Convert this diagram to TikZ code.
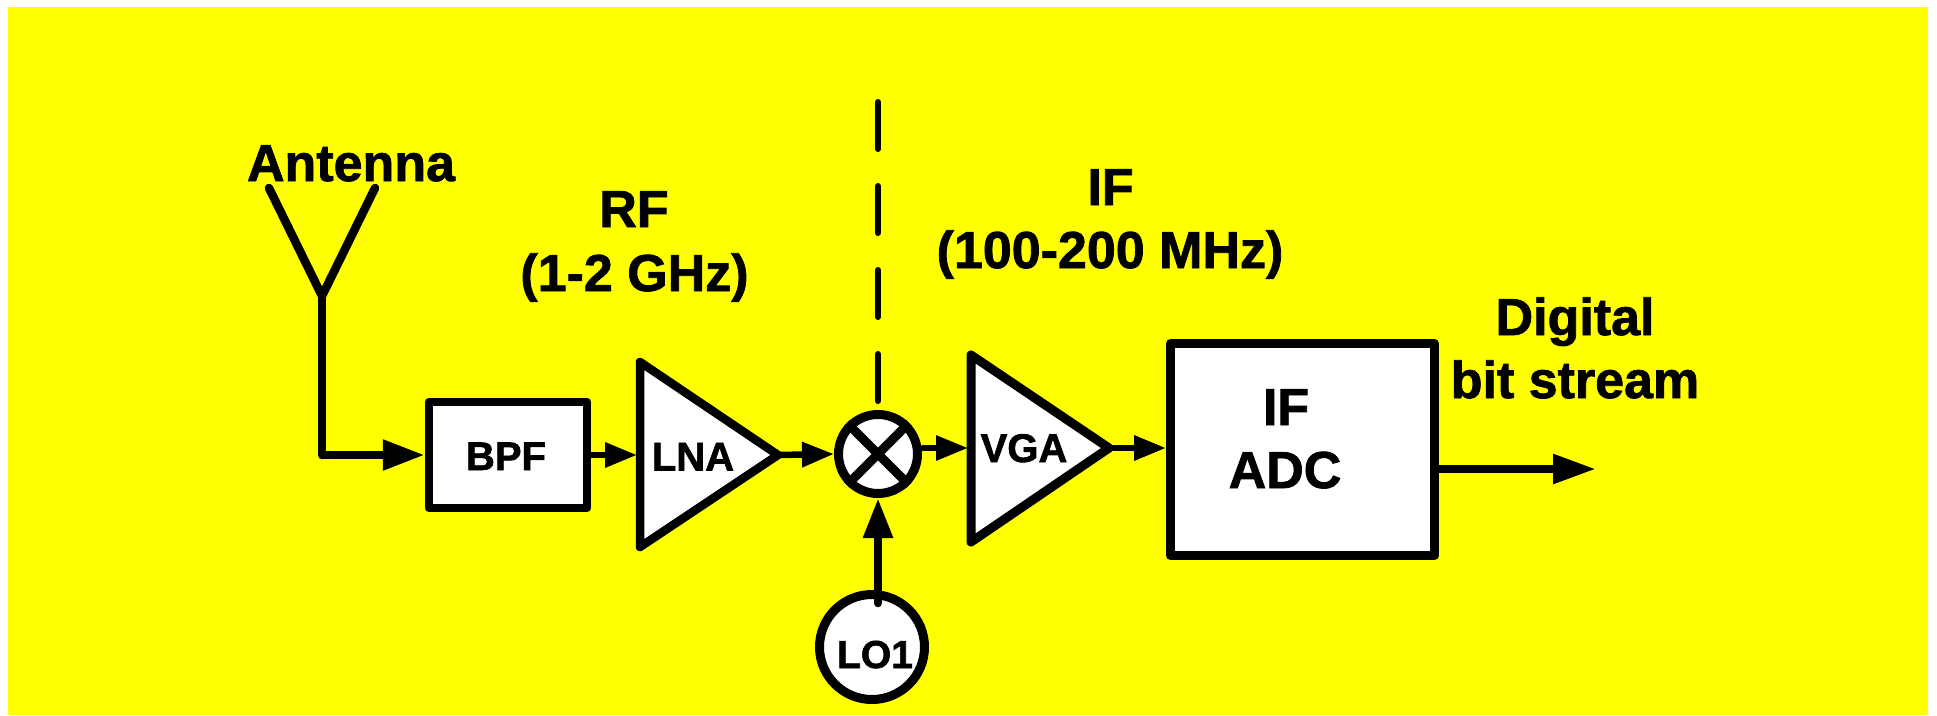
\documentclass[tikz,border=0pt]{standalone}
\usepackage{fontspec}
\setmainfont[BoldFeatures={FakeBold=1.5}]{Liberation Sans}
\usetikzlibrary{arrows.meta}
\definecolor{bgyellow}{RGB}{255,255,0}
\tikzset{
  x=1pt,y=-1pt,
  wire/.style={draw=black,line width=#1,line join=round},
  wire/.default=8.5pt,
  block/.style={draw=black,fill=white,line width=8.5pt,line join=round,inner sep=0pt},
  amp/.style={draw=black,fill=white,line width=8.5pt,line join=round},
  ring/.style={circle,draw=black,fill=white,line width=9pt,inner sep=0pt},
  lbl/.style={inner sep=0pt,anchor=base,font=\bfseries\fontsize{52}{52}\selectfont},
  sm/.style={inner sep=0pt,anchor=base,font=\bfseries\fontsize{40}{40}\selectfont},
  big/.style={-{Triangle[length=42pt,width=29pt]}},
  mid/.style={-{Triangle[length=32pt,width=24pt]}},
}
\begin{document}
\begin{tikzpicture}
\useasboundingbox (0,0) rectangle (1937,715);
\fill[white] (0,0) rectangle (1937,715);
\fill[bgyellow] (8,7) rectangle (1928,715);
% antenna
\coordinate (tipL) at (269,188);
\coordinate (tipR) at (375,188);
\coordinate (feed) at (322,296);
\coordinate (bend) at (322,455);
\node[lbl] (ant) at (351,181) {Antenna};
\node[lbl] (rf) at (634,227) {RF};
\node[lbl] (rfb) at (634.5,291) {(1-2 GHz)};
\node[lbl] (if) at (1110.5,205) {IF};
\node[lbl] (ifb) at (1110,268) {(100-200 MHz)};
\node[lbl] (dig) at (1575,335) {Digital};
\node[lbl] (bits) at (1575,398) {bit stream};
% blocks
\node[block,minimum width=158pt,minimum height=106pt] (bpf) at (508,455) {};
\node[sm] (bpft) at (506,470) {BPF};
\node[block,minimum width=264pt,minimum height=212pt,line width=9pt] (adc) at (1302.5,449.5) {};
\node[lbl] (adc1) at (1286,425) {IF};
\node[lbl] (adc2) at (1285,488) {ADC};
% amplifiers
\draw[amp] (640,362) -- (778,455) -- (640,547) -- cycle;
\coordinate (lnaL) at (637,455);
\coordinate (lnaR) at (778,455);
\node[sm] (lnat) at (693,470.5) {LNA};
\draw[amp,line width=9pt] (971,355) -- (1109,448) -- (971,542) -- cycle;
\coordinate (vgaL) at (968,448);
\coordinate (vgaR) at (1109,448);
\node[sm] (vgat) at (1024,462) {VGA};
% mixer
\node[ring,minimum size=79pt] (mix) at (878,454) {};
\draw[wire=9pt] (mix.north west) -- (mix.south east);
\draw[wire=9pt] (mix.north east) -- (mix.south west);
% LO
\node[ring,minimum size=105pt] (lo) at (872,647) {};
\node[sm,font=\bfseries\fontsize{39}{39}\selectfont] (lot) at (875,668) {LO1};
% dashed line
\coordinate (dashTop) at (878,102);
\coordinate (dashBot) at (878,402);
\draw[line width=6pt,line cap=round,dash pattern=on 47pt off 37pt] (dashTop) -- (dashBot);
% connectors
\draw[wire,big] (bend) -- (bpf.west);
\draw[wire,line cap=round] (tipL) -- (feed) -- (tipR);
\draw[wire,line cap=round] (feed) -- (bend);
\draw[wire=6.5pt,mid] (bpf.east) -- (lnaL);
\draw[wire=6.5pt,mid] (lnaR) -- (mix.west);
\draw[wire=6pt,mid,line cap=round] (923,448) -- (vgaL);
\draw[wire=6.5pt,mid] (vgaR) -- (adc.west |- vgaR);
\draw[wire,-{Triangle[length=40pt,width=28pt]},line cap=round] (878,603) -- (878,498);
\draw[wire,-{Triangle[length=43pt,width=28pt]}] (adc.east |- 0,469) -- (1596,469);
\end{tikzpicture}
\end{document}
